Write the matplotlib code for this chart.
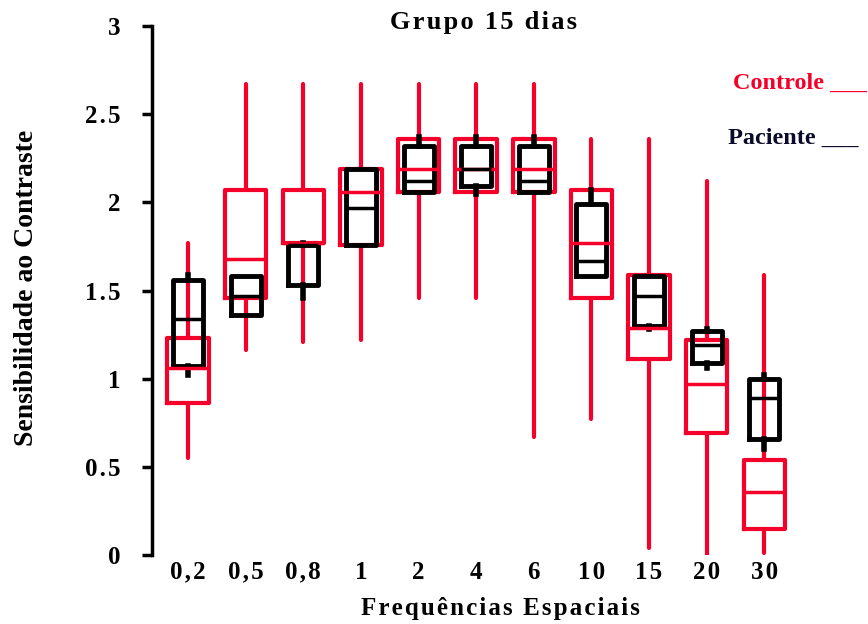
import matplotlib.pyplot as plt

# data
freqs = ['0,2', '0,5', '0,8', '1', '2', '4', '6', '10', '15', '20', '30']

ctrl_low = [0.55, 1.16, 1.21, 1.22, 1.46, 1.46, 0.67, 0.77, 0.04, 0.00, 0.01]
ctrl_q1 = [0.86, 1.46, 1.77, 1.76, 2.06, 2.06, 2.06, 1.46, 1.11, 0.69, 0.15]
ctrl_med = [1.06, 1.68, 1.77, 2.06, 2.19, 2.19, 2.19, 1.77, 1.29, 0.97, 0.36]
ctrl_q3 = [1.23, 2.07, 2.07, 2.19, 2.36, 2.36, 2.36, 2.07, 1.59, 1.22, 0.54]
ctrl_high = [1.77, 2.67, 2.67, 2.67, 2.67, 2.67, 2.67, 2.36, 2.36, 2.12, 1.59]

pac_low = [1.02, 1.36, 1.46, 1.76, 2.06, 2.05, 2.06, 1.58, 1.28, 1.06, 0.60]
pac_q1 = [1.07, 1.36, 1.53, 1.76, 2.06, 2.09, 2.06, 1.58, 1.30, 1.09, 0.66]
pac_med = [1.34, 1.47, 1.76, 1.97, 2.12, 2.19, 2.12, 1.67, 1.47, 1.19, 0.89]
pac_q3 = [1.56, 1.58, 1.76, 2.19, 2.32, 2.32, 2.32, 1.99, 1.58, 1.27, 1.00]
pac_high = [1.59, 1.58, 1.77, 2.19, 2.37, 2.37, 2.37, 2.07, 1.58, 1.28, 1.02]

red = '#f5002a'
navy = '#0a0a2a'
serif = 'Liberation Serif'


def stats(lo, q1, med, q3, hi):
    return [dict(whislo=a, q1=b, med=c, q3=d, whishi=e)
            for a, b, c, d, e in zip(lo, q1, med, q3, hi)]


def spaced(s):
    # letter spacing with hair spaces
    return '\u200a'.join(s)


fig = plt.figure(figsize=(8.68, 6.24), dpi=100)
ax = fig.add_axes([152 / 868, 69 / 624, 1 - 152 / 868, 529 / 624])

pos = list(range(len(freqs)))

ax.bxp(stats(ctrl_low, ctrl_q1, ctrl_med, ctrl_q3, ctrl_high), positions=pos,
       widths=0.72, showcaps=False, showfliers=False,
       boxprops=dict(color=red, lw=3),
       whiskerprops=dict(color=red, lw=3, solid_capstyle='round'),
       medianprops=dict(color=red, lw=2.5))

ax.bxp(stats(pac_low, pac_q1, pac_med, pac_q3, pac_high), positions=pos,
       widths=0.52, showcaps=False, showfliers=False,
       boxprops=dict(color='black', lw=3.5),
       whiskerprops=dict(color='black', lw=4),
       medianprops=dict(color='black', lw=2.5))

ax.set_xlim(-0.625, 11.8)
ax.set_ylim(0, 3)
ax.set_yticks([0, 0.5, 1, 1.5, 2, 2.5, 3])
ax.set_yticklabels([spaced(t) for t in ['0', '0.5', '1', '1.5', '2', '2.5', '3']])
ax.set_xticks(pos)
ax.set_xticklabels([spaced(t) for t in freqs])

for s in ['top', 'right', 'bottom']:
    ax.spines[s].set_visible(False)
ax.spines['left'].set_linewidth(2.5)
ax.tick_params(axis='y', length=7, width=2.5, pad=16)
ax.tick_params(axis='x', length=0, pad=4)
for lab in ax.get_xticklabels() + ax.get_yticklabels():
    lab.set_fontfamily(serif)
    lab.set_fontweight('bold')
    lab.set_fontsize(18)

fig.text(500 / 868, 1 - 609 / 624, spaced('Frequências Espaciais'),
         ha='center', va='center', fontfamily=serif, fontweight='bold', fontsize=18)
fig.text(27 / 868, 1 - 288 / 624, 'Sensibilidade ao Contraste', rotation=90,
         ha='center', va='center', fontfamily=serif, fontweight='bold', fontsize=20)
fig.text(484 / 868, 1 - 22 / 624, spaced('Grupo 15 dias'),
         ha='center', va='center', fontfamily=serif, fontweight='bold', fontsize=19)

fig.text(733 / 868, 1 - 83 / 624, 'Controle ___', color=red, ha='left',
         va='center', fontfamily=serif, fontweight='bold', fontsize=17.5)
fig.text(728 / 868, 1 - 138 / 624, 'Paciente ___', color=navy, ha='left',
         va='center', fontfamily=serif, fontweight='bold', fontsize=17.5)

fig.savefig('out.png', dpi=100)
